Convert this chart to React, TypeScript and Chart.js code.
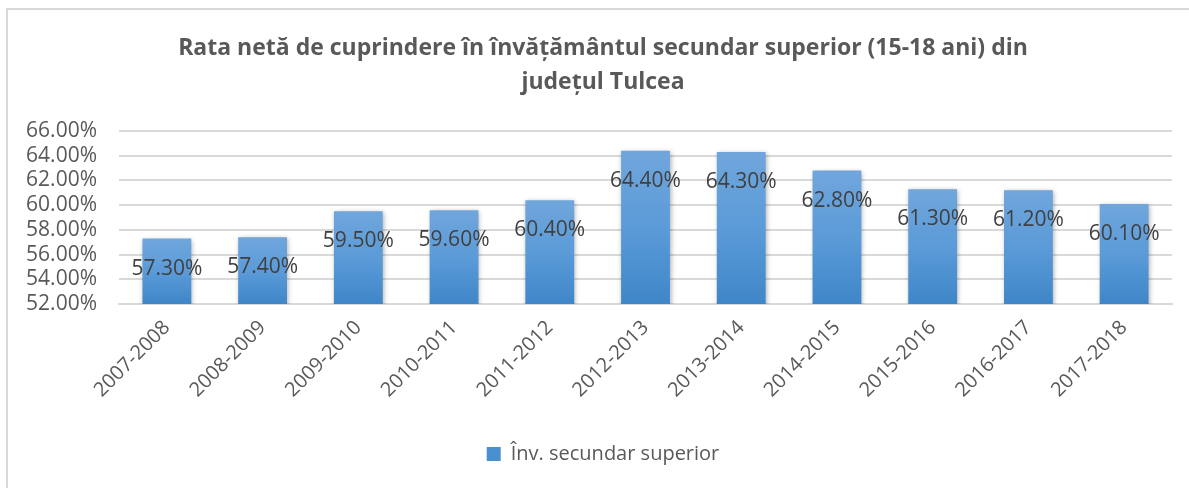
import React, { useEffect, useRef } from "react";
import { Chart, registerables } from "chart.js";

Chart.register(...registerables);

const categories = [
  "2007-2008", "2008-2009", "2009-2010", "2010-2011", "2011-2012", "2012-2013",
  "2013-2014", "2014-2015", "2015-2016", "2016-2017", "2017-2018",
];
const values = [57.3, 57.4, 59.5, 59.6, 60.4, 64.4, 64.3, 62.8, 61.3, 61.2, 60.1];
const seriesName = "Înv. secundar superior";
const titleLines = [
  "Rata netă de cuprindere în învățământul secundar superior (15-18 ani) din",
  "județul Tulcea",
];
const yMin = 52;
const yMax = 66;
const yStep = 2;

const FONT = "'Open Sans', 'Noto Sans', sans-serif";

const widenYLabelArea = {
  id: "widenYLabelArea",
  afterLayout(chart: any) {
    const y = chart.scales.y;
    if (y) y.left = 0;
  },
};

const barShadow = {
  id: "barShadow",
  beforeDatasetsDraw(chart: any) {
    const ctx = chart.ctx;
    ctx.save();
    ctx.shadowColor = "rgba(0,0,0,0.35)";
    ctx.shadowBlur = 5;
    ctx.shadowOffsetX = 1;
    ctx.shadowOffsetY = 1;
  },
  afterDatasetsDraw(chart: any) {
    chart.ctx.restore();
  },
};

const dataLabels = {
  id: "dataLabels",
  afterDatasetsDraw(chart: any) {
    const ctx = chart.ctx;
    const meta = chart.getDatasetMeta(0);
    ctx.save();
    ctx.font = `21px ${FONT}`;
    ctx.fillStyle = "#404040";
    ctx.textAlign = "center";
    ctx.textBaseline = "middle";
    meta.data.forEach((bar: any, i: number) => {
      const v = chart.data.datasets[0].data[i] as number;
      ctx.fillText(v.toFixed(2) + "%", bar.x, bar.y + 30);
    });
    ctx.restore();
  },
};

export default function App() {
  const ref = useRef<HTMLCanvasElement>(null);
  useEffect(() => {
    if (!ref.current) return;
    const chart = new Chart(ref.current, {
      type: "bar",
      data: {
        labels: categories,
        datasets: [
          {
            label: seriesName,
            data: values,
            barPercentage: 0.51,
            categoryPercentage: 1,
            backgroundColor: (context: any) => {
              const c = context.chart;
              const ca = c.chartArea;
              if (!ca || context.dataIndex === undefined) return "#5b9bd5";
              const y = c.scales.y;
              const top = y.getPixelForValue(context.raw);
              const bottom = y.getPixelForValue(yMin);
              const g = c.ctx.createLinearGradient(0, top, 0, bottom);
              g.addColorStop(0, "#70a6dc");
              g.addColorStop(0.5, "#5b9bd8");
              g.addColorStop(1, "#3f86c8");
              return g;
            },
            borderWidth: 0,
          },
        ],
      },
      options: {
        animation: false,
        responsive: false,
        maintainAspectRatio: false,
        layout: { padding: { left: 34, right: 17, top: 0, bottom: 14 } },
        plugins: {
          title: {
            display: true,
            text: titleLines,
            color: "#595959",
            font: { family: FONT, size: 23, weight: "bold", lineHeight: 1.48 },
            padding: { top: 31, bottom: 32 },
          },
          legend: {
            display: true,
            position: "bottom",
            labels: {
              color: "#595959",
              font: { family: FONT, size: 20 },
              boxWidth: 14,
              boxHeight: 14,
              padding: 10,
              generateLabels: () => [
                {
                  text: seriesName,
                  fillStyle: "#4a8fd0",
                  strokeStyle: "#4a8fd0",
                  lineWidth: 0,
                  hidden: false,
                  datasetIndex: 0,
                  fontColor: "#595959",
                },
              ],
            },
          },
          tooltip: { enabled: false },
        },
        scales: {
          x: {
            grid: { display: false },
            border: { display: true, color: "#d9d9d9", width: 2 },
            ticks: {
              color: "#595959",
              font: { family: FONT, size: 20 },
              minRotation: 45,
              maxRotation: 45,
              autoSkip: false,
              padding: 4,
            },
            afterFit: (scale: any) => {
              scale.height = 130;
            },
          },
          y: {
            min: yMin,
            max: yMax,
            grid: { color: "#d9d9d9", lineWidth: 2, drawTicks: false },
            border: { display: false },
            ticks: {
              stepSize: yStep,
              autoSkip: false,
              color: "#595959",
              font: { family: FONT, size: 21 },
              padding: 22,
              callback: (v: any) => Number(v).toFixed(2) + "%",
            },
            afterFit: (scale: any) => {
              scale.width = 85;
            },
          },
        },
      } as any,
      plugins: [widenYLabelArea, barShadow, dataLabels],
    });
    return () => chart.destroy();
  }, []);

  return (
    <div style={{ position: "fixed", left: 0, top: 0, width: 1189, height: 488, overflow: "hidden", background: "#fff" }}>
      <div
        style={{
          position: "absolute",
          left: 6,
          top: 8,
          width: 1200,
          height: 600,
          border: "2px solid #d9d9d9",
          boxSizing: "border-box",
        }}
      />
      <canvas ref={ref} width={1189} height={488} style={{ position: "absolute", left: 0, top: 0 }} />
    </div>
  );
}
